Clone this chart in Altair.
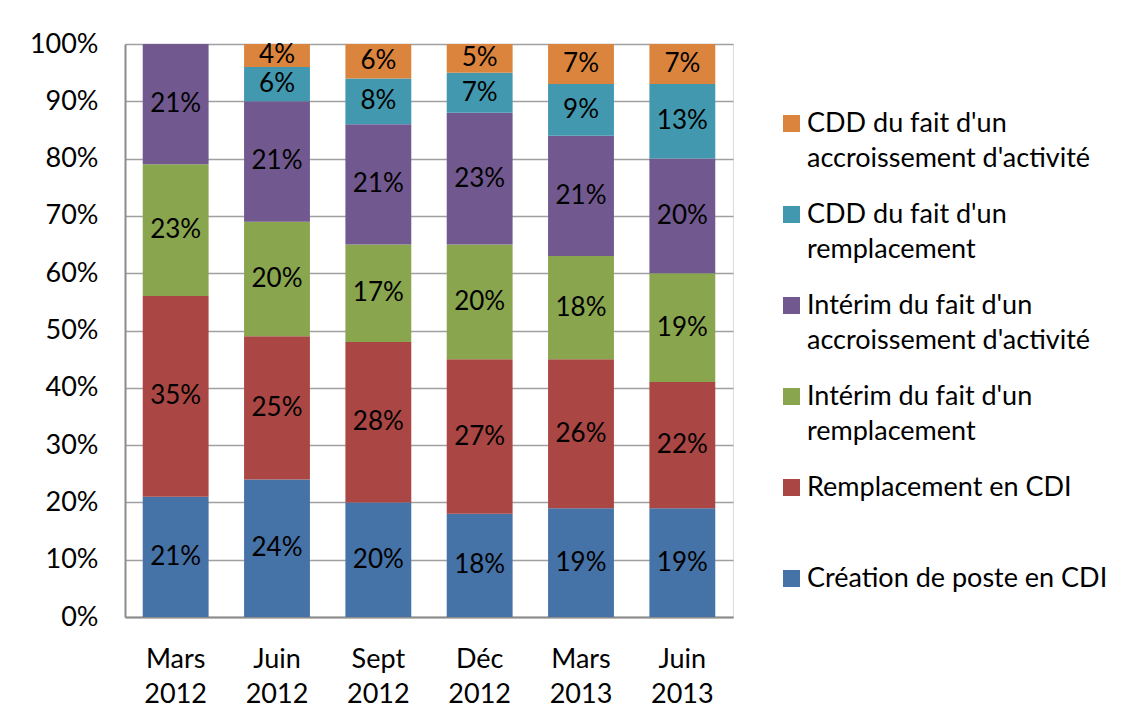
import altair as alt
import pandas as pd

periods = ["Mars 2012", "Juin 2012", "Sept 2012", "Déc 2012", "Mars 2013", "Juin 2013"]

series = [
    "Création de poste en CDI",
    "Remplacement en CDI",
    "Intérim du fait d'un remplacement",
    "Intérim du fait d'un accroissement d'activité",
    "CDD du fait d'un remplacement",
    "CDD du fait d'un accroissement d'activité",
]
colors = ["#4572A7", "#AA4643", "#89A54E", "#71588F", "#4198AF", "#DB843D"]

creation_cdi = [21, 24, 20, 18, 19, 19]
remplacement_cdi = [35, 25, 28, 27, 26, 22]
interim_remplacement = [23, 20, 17, 20, 18, 19]
interim_accroissement = [21, 21, 21, 23, 21, 20]
cdd_remplacement = [0, 6, 8, 7, 9, 13]
cdd_accroissement = [0, 4, 6, 5, 7, 7]

values = [creation_cdi, remplacement_cdi, interim_remplacement,
          interim_accroissement, cdd_remplacement, cdd_accroissement]

rows = []
for si, (name, vals) in enumerate(zip(series, values)):
    for p, v in zip(periods, vals):
        rows.append({"period": p, "series": name, "idx": si, "value": v})
df = pd.DataFrame(rows)

FONT = "Lato"
FS = 27

base = alt.Chart(df).transform_filter(
    "datum.value > 0"
).transform_stack(
    stack="value", as_=["y0", "y1"], groupby=["period"],
    sort=[alt.SortField("idx", order="ascending")]
).transform_calculate(
    mid="(datum.y0 + datum.y1) / 2",
    lbl="datum.value + '%'"
)

xenc = alt.X(
    "period:N", sort=periods, title=None,
    scale=alt.Scale(paddingInner=0.35, paddingOuter=0.175),
    axis=alt.Axis(labelExpr="split(datum.label, ' ')", labelAngle=0,
                  labelFont=FONT, labelFontSize=FS, labelColor="#000000",
                  labelLineHeight=35, labelPadding=29, ticks=False,
                  domainColor="#8c8c8c", domainWidth=2, grid=False),
)

legend_expr = (
    'indexof(datum.label, "d\'un ") >= 0 ? '
    '[substring(datum.label, 0, indexof(datum.label, "d\'un ") + 4), '
    'substring(datum.label, indexof(datum.label, "d\'un ") + 5)] : '
    '[datum.label, ""]'
)

bars = base.mark_bar().encode(
    x=xenc,
    y=alt.Y("y0:Q", title=None,
            scale=alt.Scale(domain=[0, 100], nice=False),
            axis=alt.Axis(values=list(range(0, 101, 10)),
                          labelExpr="datum.value + '%'",
                          labelFont=FONT, labelFontSize=FS, labelColor="#000000",
                          labelPadding=27, ticks=False,
                          domainColor="#8c8c8c", domainWidth=2,
                          grid=True, gridColor="#a0a0a0", gridWidth=1.5)),
    y2="y1:Q",
    color=alt.Color(
        "series:N",
        scale=alt.Scale(domain=series[::-1], range=colors[::-1]),
        legend=alt.Legend(
            title=None, orient="none", legendX=653, legendY=66,
            symbolType="square", symbolSize=289, symbolStrokeWidth=0,
            symbolOpacity=1, labelFont=FONT, labelFontSize=FS,
            labelColor="#000000", labelLimit=600,
            labelOffset=2, rowPadding=28, padding=0,
            labelExpr=legend_expr,
        ),
    ),
    order=alt.Order("idx:Q"),
)

texts = base.mark_text(font=FONT, fontSize=26, color="#000000",
                       baseline="middle").encode(
    x=alt.X("period:N", sort=periods),
    y=alt.Y("mid:Q"),
    text="lbl:N",
)

chart = alt.layer(bars, texts).properties(
    width=608, height=573,
    autosize=alt.AutoSizeParams(type="none"),
    padding={"left": 117, "top": 36, "right": 390, "bottom": 95},
).configure_view(stroke=None).configure(
    background="white",
    style={"guide-label": {"lineHeight": 35}},
)

chart.save("out.html", embed_options={"renderer": "svg", "actions": False})
